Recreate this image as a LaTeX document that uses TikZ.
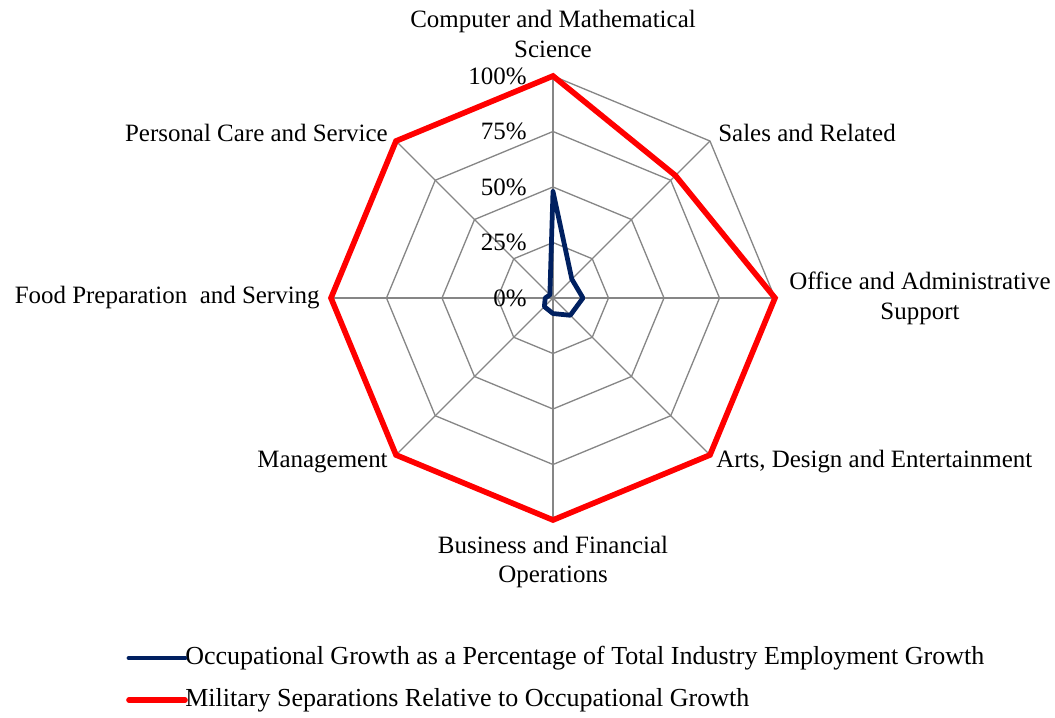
\documentclass[tikz,border=0pt]{standalone}
\usepackage{fontspec}
\setmainfont{Liberation Serif}
\usetikzlibrary{positioning}
\definecolor{navyline}{RGB}{0,32,96}
\definecolor{gridgray}{RGB}{134,134,134}

\begin{document}
\begin{tikzpicture}[
  x = 0.02cm, y = 0.02cm,
  gridline/.style = {draw=gridgray, line width=0.75pt},
  blueline/.style = {draw=navyline, line width=2.7pt, line join=round},
  redline/.style = {draw=red, line width=3.2pt},
  axlabel/.style = {align=center, inner sep=0pt, font=\fontsize{14.2}{17}\selectfont},
  tick/.style = {anchor=east, inner sep=0pt, font=\fontsize{14.2}{17}\selectfont},
  legtext/.style = {anchor=west, inner sep=0pt, font=\fontsize{14.8}{17}\selectfont}
]
\useasboundingbox (-553,-419) rectangle (502,298);

% grid
\foreach \r in {55.5,111,166.5,222}
  \draw[gridline] (90:\r) \foreach \a in {45,0,-45,-90,-135,180,135} { -- (\a:\r) } -- cycle;
\foreach \a in {90,45,0,-45,-90,-135,180,135}
  \draw[gridline] (0,0) -- (\a:222);

% tick labels
\foreach \p [count=\k from 0] in {0\%,25\%,50\%,75\%,100\%}
  \node[tick] (tick\k) at (-26,{55.5*\k}) {\p};

% axis labels
\node[axlabel] (comp) at (0,264) {Computer and Mathematical\\Science};
\node[axlabel, anchor=west] (sales) at (165,165) {Sales and Related};
\node[axlabel] (office) at (367,0) {Office and Administrative\\Support};
\node[axlabel, anchor=west] (arts) at (163,-164) {Arts, Design and Entertainment};
\node[axlabel] (busi) at (0,-264) {Business and Financial\\Operations};
\node[axlabel, anchor=east] (mgmt) at (-165,-164) {Management};
\node[axlabel, anchor=east] (food) at (-233,0) {Food Preparation \ and Serving};
\node[axlabel, anchor=east] (care) at (-165,165) {Personal Care and Service};

% data
\foreach \v [count=\i from 0] in {1,0.78,1,1,1,1,1,1}
  \coordinate (r\i) at ({90-45*\i}:{222*\v});
\foreach \v [count=\i from 0] in {0.48,0.12,0.135,0.11,0.07,0.055,0.035,0.02}
  \coordinate (b\i) at ({90-45*\i}:{222*\v});
\draw[redline] (r0) -- (r1) -- (r2) -- (r3) -- (r4) -- (r5) -- (r6) -- (r7) -- cycle;
\draw[blueline] (b0) -- (b1) -- (b2) -- (b3) -- (b4) -- (b5) -- (b6) -- (b7) -- cycle;

% legend
\node[legtext] (leg1) at (-368,-360) {Occupational Growth as a Percentage of Total Industry Employment Growth};
\node[legtext] (leg2) at (-368,-402) {Military Separations Relative to Occupational Growth};
\draw[blueline, line cap=round] (leg1.west) -- ++(-56,0);
\draw[redline, line cap=round] (leg2.west) -- ++(-56,0);
\end{tikzpicture}
\end{document}
